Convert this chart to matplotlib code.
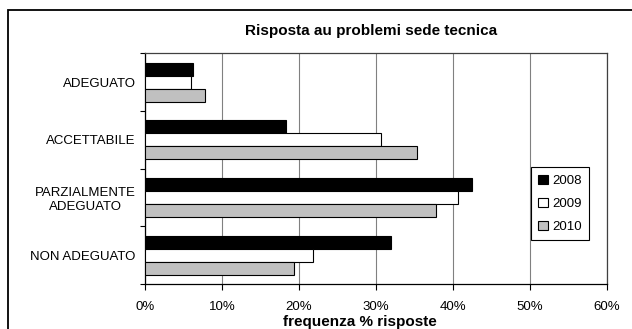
import matplotlib
matplotlib.use("Agg")
import matplotlib.pyplot as plt
from matplotlib.patches import Rectangle, Patch
import numpy as np

plt.rcParams['font.family'] = ['Liberation Sans', 'DejaVu Sans']

categories = ["ADEGUATO", "ACCETTABILE", "PARZIALMENTE\nADEGUATO", "NON ADEGUATO"]
years = ["2008", "2009", "2010"]
v2008 = [6.2, 18.3, 42.5, 31.9]
v2009 = [5.9, 30.6, 40.6, 21.8]
v2010 = [7.7, 35.3, 37.8, 19.3]
xticks = [0, 10, 20, 30, 40, 50, 60]
title = "Risposta au problemi sede tecnica"
xlabel = "frequenza % risposte"

colors = ["#000000", "#ffffff", "#c0c0c0"]

W, H = 632, 329
fig = plt.figure(figsize=(W / 100, H / 100), dpi=100)

# outer chart frame (clipped at right and bottom)
fig.patches.append(Rectangle((7.5 / W, -0.1), 1.2, (H - 10.5) / H + 0.1,
                             transform=fig.transFigure, fill=False,
                             edgecolor="#000000", linewidth=1.3, zorder=0))

ax_l, ax_r, ax_t, ax_b = 145.3, 606.7, 53.3, 284.0
ax = fig.add_axes([ax_l / W, 1 - ax_b / H, (ax_r - ax_l) / W, (ax_b - ax_t) / H])

n = len(categories)
ypos = np.arange(n)[::-1]  # top category first
bh = 0.676 / 3
series = [v2008, v2009, v2010]
for i, (vals, col) in enumerate(zip(series, colors)):
    offs = (1 - i) * bh
    ax.barh(ypos + offs, vals, height=bh, color=col, edgecolor="#000000",
            linewidth=0.8, zorder=3)

ax.set_xlim(0, 60)
ax.set_ylim(-0.5, n - 0.5)
ax.set_xticks(xticks)
ax.set_xticklabels([f"{t}%" for t in xticks], fontsize=9.5)
ax.set_yticks(ypos)
ax.set_yticklabels(categories, fontsize=9.5, multialignment="center")
ax.set_yticks(np.arange(-0.5, n, 1.0), minor=True)
ax.tick_params(axis="y", which="major", length=0, pad=7)
ax.tick_params(axis="y", which="minor", length=3.5, width=0.8, direction="out")
ax.tick_params(axis="x", which="major", length=4, width=0.8, direction="out", pad=8)

ax.grid(axis="x", color="#808080", linewidth=0.8, zorder=0)
ax.set_axisbelow(True)
for s in ["left", "bottom"]:
    ax.spines[s].set_color("#000000")
    ax.spines[s].set_linewidth(0.9)
for s in ["top", "right"]:
    ax.spines[s].set_color("#404040")
    ax.spines[s].set_linewidth(0.9)

fig.text(371 / W, 1 - 31 / H, title, ha="center", va="center",
         fontsize=11, fontweight="bold")
fig.text(360 / W, 1 - 322 / H, xlabel, ha="center", va="center",
         fontsize=11, fontweight="bold")

handles = [Patch(facecolor=c, edgecolor="#000000", linewidth=0.8) for c in colors]
leg = fig.legend(handles, years, loc="upper left",
                 bbox_to_anchor=(530.7 / W, 1 - 167.3 / H), borderaxespad=0,
                 fontsize=9.5, handlelength=0.75, handleheight=0.75,
                 handletextpad=0.35, labelspacing=0.8, borderpad=0.55,
                 fancybox=False, framealpha=1, edgecolor="#000000")
leg.get_frame().set_linewidth(0.8)

fig.savefig("out.png", dpi=100)
